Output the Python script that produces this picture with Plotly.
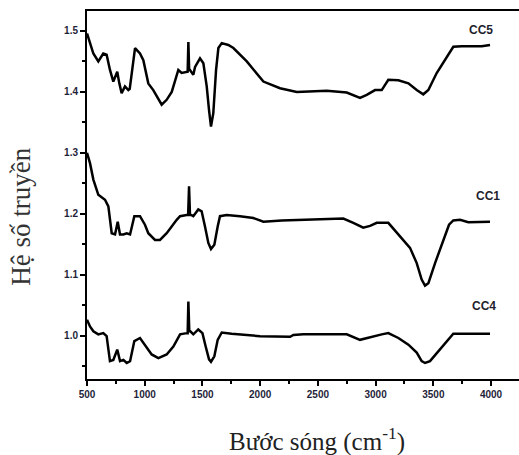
import plotly.graph_objects as go

cc5_x = [500, 526, 555, 598, 641, 670, 699, 728, 762, 780, 800, 829, 858, 870, 916, 959, 988, 1031, 1074, 1147,
         1190, 1234, 1291, 1320, 1363, 1372, 1378, 1385, 1392, 1421, 1436, 1479, 1508, 1537, 1557, 1574, 1594, 1618,
         1638, 1667, 1724, 1768, 1884, 2028, 2172, 2317, 2577, 2750, 2865, 2923, 2995, 3053, 3110, 3197, 3284, 3356,
         3413, 3457, 3529, 3601, 3673, 3746, 3919, 3991]
cc5_y = [1.496, 1.480, 1.463, 1.450, 1.463, 1.461, 1.436, 1.417, 1.433, 1.414, 1.398, 1.409, 1.403, 1.405, 1.472,
         1.463, 1.452, 1.414, 1.403, 1.379, 1.387, 1.400, 1.436, 1.431, 1.433, 1.433, 1.482, 1.436, 1.436, 1.428,
         1.441, 1.455, 1.447, 1.409, 1.370, 1.343, 1.365, 1.436, 1.472, 1.480, 1.477, 1.472, 1.450, 1.417, 1.406,
         1.400, 1.402, 1.399, 1.390, 1.395, 1.403, 1.403, 1.420, 1.419, 1.414, 1.403, 1.396, 1.403, 1.431, 1.452,
         1.474, 1.475, 1.475, 1.477]

cc1_x = [500, 526, 555, 598, 656, 685, 714, 743, 766, 786, 815, 844, 873, 910, 959, 1002, 1031, 1089, 1132, 1190,
         1277, 1306, 1363, 1376, 1384, 1392, 1401, 1421, 1464, 1493, 1522, 1551, 1574, 1603, 1632, 1652, 1710, 1782,
         1825, 1941, 2028, 2187, 2345, 2547, 2720, 2807, 2893, 2952, 3010, 3110, 3212, 3298, 3356, 3399, 3428, 3457,
         3515, 3587, 3636, 3673, 3731, 3803, 3991]
cc1_y = [1.300, 1.283, 1.256, 1.231, 1.223, 1.212, 1.168, 1.166, 1.187, 1.166, 1.166, 1.168, 1.166, 1.196, 1.196,
         1.182, 1.168, 1.157, 1.157, 1.168, 1.190, 1.196, 1.198, 1.198, 1.245, 1.198, 1.198, 1.196, 1.207, 1.204,
         1.179, 1.152, 1.142, 1.149, 1.179, 1.196, 1.198, 1.196, 1.196, 1.193, 1.187, 1.189, 1.190, 1.192, 1.192,
         1.185, 1.177, 1.180, 1.185, 1.185, 1.163, 1.144, 1.119, 1.092, 1.082, 1.086, 1.119, 1.157, 1.182, 1.189,
         1.190, 1.186, 1.187]

cc4_x = [500, 526, 555, 598, 641, 670, 699, 728, 762, 786, 815, 844, 873, 910, 959, 1002, 1060, 1118, 1190, 1248,
         1306, 1363, 1372, 1378, 1386, 1395, 1421, 1464, 1500, 1528, 1557, 1574, 1603, 1632, 1667, 1753, 1999, 2259,
         2288, 2374, 2750, 2865, 2981, 3053, 3110, 3197, 3284, 3356, 3399, 3428, 3471, 3543, 3616, 3673, 3991]
cc4_y = [1.026, 1.015, 1.007, 1.002, 1.004, 0.999, 0.958, 0.960, 0.977, 0.958, 0.960, 0.955, 0.958, 0.991, 0.996,
         0.985, 0.969, 0.963, 0.969, 0.982, 1.002, 1.004, 1.004, 1.056, 1.007, 1.007, 1.002, 1.010, 1.004, 0.982,
         0.961, 0.957, 0.966, 0.993, 1.005, 1.003, 0.999, 0.998, 1.001, 1.002, 1.002, 0.993, 0.999, 1.002, 1.004,
         0.996, 0.985, 0.972, 0.958, 0.955, 0.958, 0.974, 0.991, 1.003, 1.003]

series_names = ["CC5", "CC1", "CC4"]
label_x = [3910, 3974, 3939]
label_y = [1.502, 1.229, 1.048]

x_tick_vals = [500, 1000, 1500, 2000, 2500, 3000, 3500, 4000]
y_tick_vals = [1.0, 1.1, 1.2, 1.3, 1.4, 1.5]
y_tick_text = ["1.0", "1.1", "1.2", "1.3", "1.4", "1.5"]

W, H = 519, 455
L, T, B, R = 87, 11, 455 - 379.5, 0
pw = W - L - R
ph = H - T - B


def px_to_paper(xp, yp):
    return (xp - L) / pw, (H - B - yp) / ph


fig = go.Figure()
for xs, ys, nm in zip([cc5_x, cc1_x, cc4_x], [cc5_y, cc1_y, cc4_y], series_names):
    fig.add_trace(go.Scatter(x=xs, y=ys, mode="lines", name=nm, hoverinfo="skip",
                             line=dict(color="black", width=2.5), showlegend=False))

for nm, lx, ly in zip(series_names, label_x, label_y):
    fig.add_annotation(x=lx, y=ly, text=nm, showarrow=False, xref="x", yref="y",
                       xanchor="center", yanchor="middle",
                       font=dict(family="Arial, Liberation Sans", size=12, color="#1f1f2e", weight="bold"))

ax, ay = px_to_paper(317, 440)
fig.add_annotation(x=ax, y=ay, xref="paper", yref="paper", text="Bước sóng (cm<sup>-1</sup>)",
                   showarrow=False, xanchor="center", yanchor="middle",
                   font=dict(family="Liberation Serif, Times New Roman", size=25, color="#222"))

bx, by = px_to_paper(21, 217)
fig.add_annotation(x=bx, y=by, xref="paper", yref="paper", text="Hệ số truyền", textangle=-90,
                   showarrow=False, xanchor="center", yanchor="middle",
                   font=dict(family="Liberation Serif, Times New Roman", size=27, color="#333"))

fig.update_layout(
    width=W, height=H,
    margin=dict(l=L, r=R, t=T, b=B),
    paper_bgcolor="white", plot_bgcolor="white",
    xaxis=dict(range=[500, 4242], tickvals=x_tick_vals, ticks="outside", ticklen=5, tickwidth=1.5,
               tickcolor="black", showline=True, linecolor="black", linewidth=2, mirror=True,
               showgrid=False, zeroline=False, automargin=False,
               tickfont=dict(family="Arial, Liberation Sans", size=10, color="#1f1f3a", weight="bold"),
               minor=dict(tickvals=[750, 1250, 1750, 2250, 2750, 3250, 3750], ticks="outside", ticklen=3,
                          tickcolor="black", tickwidth=1.5)),
    yaxis=dict(range=[0.9287, 1.5328], tickvals=y_tick_vals, ticktext=y_tick_text, ticks="outside", ticklen=5,
               tickwidth=1.5, tickcolor="black", showline=True, linecolor="black", linewidth=2,
               showgrid=False, zeroline=False, automargin=False,
               tickfont=dict(family="Arial, Liberation Sans", size=10, color="#1f1f3a", weight="bold"),
               minor=dict(tickvals=[0.95, 1.05, 1.15, 1.25, 1.35, 1.45], ticks="outside", ticklen=3,
                          tickcolor="black", tickwidth=1.5)),
)

fig.write_html("out.html", config={"displayModeBar": False},
               post_script="document.body.style.margin='0';document.body.style.overflow='hidden';")
